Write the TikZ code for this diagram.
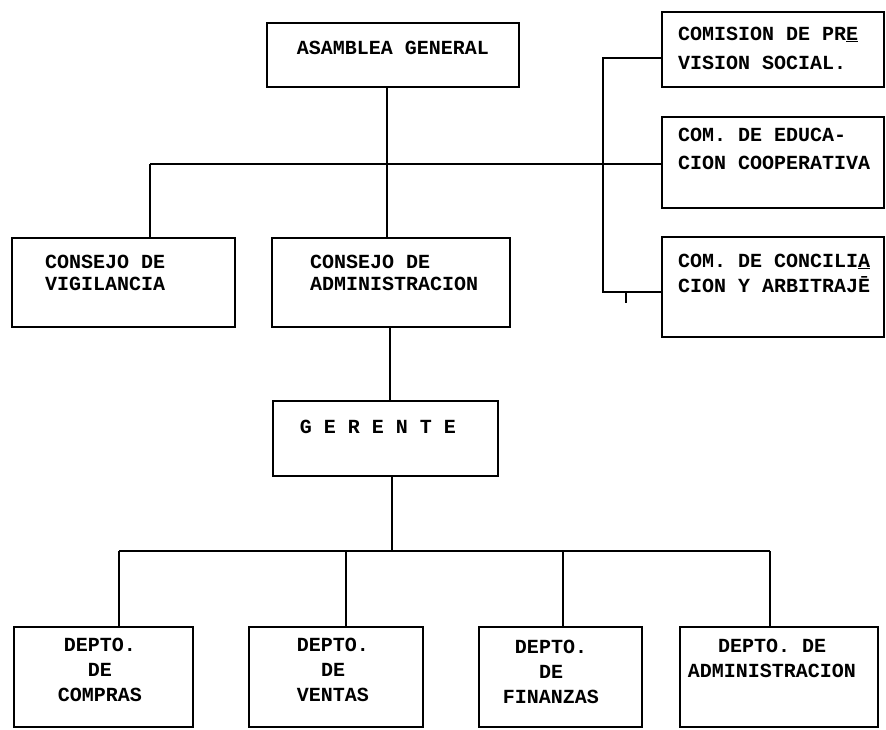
\documentclass[tikz,border=0pt]{standalone}
\usepackage{fontspec}
\setmonofont{Liberation Mono}
\usetikzlibrary{calc, positioning}

\tikzset{
  box/.style={draw, line width=1.8pt, inner sep=0pt},
  txt/.style={font=\ttfamily\bfseries\fontsize{20}{25}\selectfont, inner sep=0pt},
  link/.style={line width=1.8pt}
}

\begin{document}
\begin{tikzpicture}[x=1pt, y=-1pt]
\useasboundingbox (0,0) rectangle (886,729);

% boxes
\node[box, minimum width=252, minimum height=64] (asamblea) at (393,55) {};
\node[box, minimum width=222, minimum height=75] (prevision) at (773,49.5) {};
\node[box, minimum width=222, minimum height=91] (educacion) at (773,162.5) {};
\node[box, minimum width=222, minimum height=100] (concilia) at (773,287) {};
\node[box, minimum width=223, minimum height=89] (vigilancia) at (123.5,282.5) {};
\node[box, minimum width=238, minimum height=89] (consejo) at (391,282.5) {};
\node[box, minimum width=225, minimum height=75] (gerente) at (385.5,438.5) {};
\node[box, minimum width=179, minimum height=100] (compras) at (103.5,677) {};
\node[box, minimum width=174, minimum height=100] (ventas) at (336,677) {};
\node[box, minimum width=163, minimum height=100] (finanzas) at (560.5,677) {};
\node[box, minimum width=198, minimum height=100] (admin) at (779,677) {};

% texts
\node[txt] (t-asamblea) at (393,48) {ASAMBLEA GENERAL};
\node[txt, anchor=west, align=left, font=\ttfamily\bfseries\fontsize{20}{29}\selectfont]
  (t-prevision) at (678,48) {COMISION DE PR\underline{E}\\VISION SOCIAL.};
\node[txt, anchor=west, align=left, font=\ttfamily\bfseries\fontsize{20}{28}\selectfont]
  (t-educacion) at (678,149) {COM. DE EDUCA-\\CION COOPERATIVA};
\node[txt, anchor=west, align=left] (t-concilia) at (678,273) {COM. DE CONCILI\underline{A}\\CION Y ARBITRAJĒ};
\node[txt, anchor=west, align=left, font=\ttfamily\bfseries\fontsize{20}{22}\selectfont]
  (t-vigilancia) at (45,273) {CONSEJO DE\\VIGILANCIA};
\node[txt, anchor=west, align=left, font=\ttfamily\bfseries\fontsize{20}{22}\selectfont]
  (t-consejo) at (310,273) {CONSEJO DE\\ADMINISTRACION};
\node[txt] (t-gerente) at (378,427) {G E R E N T E};
\node[txt, align=center] (t-compras) at (100,670) {DEPTO.\\DE\\COMPRAS};
\node[txt, align=center] (t-ventas) at (333,670) {DEPTO.\\DE\\VENTAS};
\node[txt, align=center] (t-finanzas) at (551,672) {DEPTO.\\DE\\FINANZAS};
\node[txt, align=center] (t-admin) at (772,658) {DEPTO. DE\\ADMINISTRACION};

% connectors
\coordinate (up) at (387,164);     % upper bar
\coordinate (vl) at (150,164);
\coordinate (rs) at (603,58);      % side spine
\coordinate (rb) at (603,292);
\coordinate (gx) at (390,0);
\coordinate (bar) at (392,551);    % lower bar

\draw[link] (asamblea.south -| up) -- (consejo.north -| up);
\draw[link] (vl) -- (educacion.west |- vl);
\draw[link] (vl) -- (vl |- vigilancia.north);
\draw[link] (prevision.west |- rs) -- (rs) -- (rb) -- (rb -| concilia.west);
\draw[link] ($(rb)+(23,0)$) -- ++(0,11);
\draw[link] (consejo.south -| gx) -- (gerente.north -| gx);
\draw[link] (gerente.south -| bar) -- (bar);
\draw[link] (119,551) -- (770,551);
\foreach \d/\x in {compras/119, ventas/346, finanzas/563, admin/770}
  \draw[link] (\x,551) -- (\d.north -| \x,551);
\end{tikzpicture}
\end{document}
